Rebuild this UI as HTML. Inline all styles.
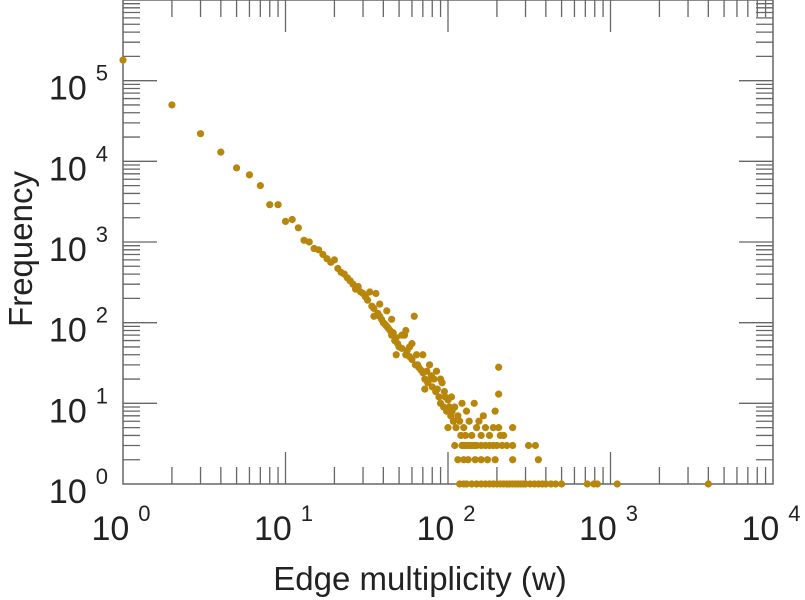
<!DOCTYPE html>
<html><head><meta charset="utf-8"><style>
body{margin:0;background:#fff;width:805px;height:600px;overflow:hidden}
svg{display:block;font-family:"Liberation Sans",sans-serif}
</style></head><body>
<svg id="chart" width="805" height="600" viewBox="0 0 805 600"></svg>
<script>
const xValues=[1,2,3,4,5,6,7,8,9,10,11,12,13,14,15,16,17,18,19,20,21,22,23,24,25,26,27,28,29,30,
31,32,33,34,35,36,37,38,39,40,41,42,43,44,45,46,47,48,49,50,
52,54,55,56,58,60,62,63,64,66,68,70,72,74,75,77,79,80,82,84,86,88,90,92,94,96,98,100,
102,104,106,108,110,112,115,118,120,122,125,128,130,135,140,145,150,155,160,165,170,180,190,195,205,205,205,210,220,250,
110,122,126,130,135,140,145,150,160,170,180,190,200,215,230,250,313,345,
115,125,133,147,160,175,195,250,360,
118,125,130,140,150,160,170,180,190,200,210,220,230,240,250,260,270,280,290,300,320,340,360,380,400,430,460,500,720,790,830,1100,4000,
35,38,42,45,48,52,55,58,60,65,70,72,78,85,90,95,100,105,108];
const yValues=[180000,50000,22000,13000,8300,6800,5000,2900,2900,1800,1900,1500,1050,1000,830,800,700,620,560,600,470,420,400,360,330,300,260,280,240,230,
210,190,240,160,150,230,130,120,110,100,95,140,85,80,70,75,60,65,55,50,
48,70,40,45,38,35,120,30,40,28,26,24,20,25,18,30,22,16,20,14,15,12,10,18,9,12,8,11,
9,7,8,6,9,5,7,6,4,10,5,4,8,6,4,10,5,6,4,7,5,4,5,8,28,13,5,4,4,5,
3,3,3,3,3,3,3,3,3,3,3,3,3,3,3,3,3,3,
2,2,2,2,2,2,2,2,2,
1,1,1,1,1,1,1,1,1,1,1,1,1,1,1,1,1,1,1,1,1,1,1,1,1,1,1,1,1,1,1,1,1,
120,170,90,110,40,70,80,50,55,30,40,15,20,25,20,14,5,12,6];
const xTicks=[0,1,2,3,4];
const yTicks=[0,1,2,3,4,5];
const L=123,R=773,T=0,B=484,XD=4,YD=6;
const sx=v=>L+(Math.log10(v))*(R-L)/XD;
const sy=v=>B-(Math.log10(v))*(B-T)/YD;
const svg=document.getElementById('chart');
const NS='http://www.w3.org/2000/svg';
function mk(t,a,p){const e=document.createElementNS(NS,t);for(const k in a)e.setAttribute(k,a[k]);(p||svg).appendChild(e);return e;}
const g=mk('g',{});


mk('rect',{x:L,y:T,width:R-L,height:B-T,fill:'none',stroke:'#666','stroke-width':1.5},g);
let d='';
for(let e=0;e<XD;e++)for(let m=1;m<10;m++){const x=sx(m*Math.pow(10,e));const len=m==1?32:17;if(x>L+1)d+=`M${x} ${B}v-${len}M${x} ${T}v${len}`;}
for(let e=0;e<YD;e++)for(let m=1;m<10;m++){const y=sy(m*Math.pow(10,e));const len=m==1?34:17;if(y<B-1)d+=`M${L} ${y}h${len}M${R} ${y}h-${len}`;}
mk('path',{d:d,stroke:'#666','stroke-width':1.3,fill:'none'},g);
xTicks.forEach(e=>{const t=mk('text',{x:sx(Math.pow(10,e))-2,y:540,'font-size':34,'text-anchor':'middle',fill:'#222'});


t.innerHTML=`10<tspan dx="9" dy="-19" font-size="22">${e}</tspan>`;});
yTicks.forEach(e=>{const t=mk('text',{x:108,y:sy(Math.pow(10,e))+19,'font-size':34,'text-anchor':'end',fill:'#222'});


t.innerHTML=`10<tspan dx="9" dy="-19" font-size="22">${e}</tspan>`;});
const xt=mk('text',{x:420,y:590,'font-size':33,'text-anchor':'middle',fill:'#222'});


xt.textContent='Edge multiplicity (w)';
const yt=mk('text',{x:0,y:0,'font-size':33,'text-anchor':'middle',fill:'#222',transform:'translate(32,249) rotate(-90)'});


yt.textContent='Frequency';
const pg=mk('g',{fill:'#b8860b'});


xValues.forEach((x,i)=>{const c=mk('circle',{cx:sx(x),cy:sy(yValues[i]),r:3.6},pg);

});
</script>
</body></html>
